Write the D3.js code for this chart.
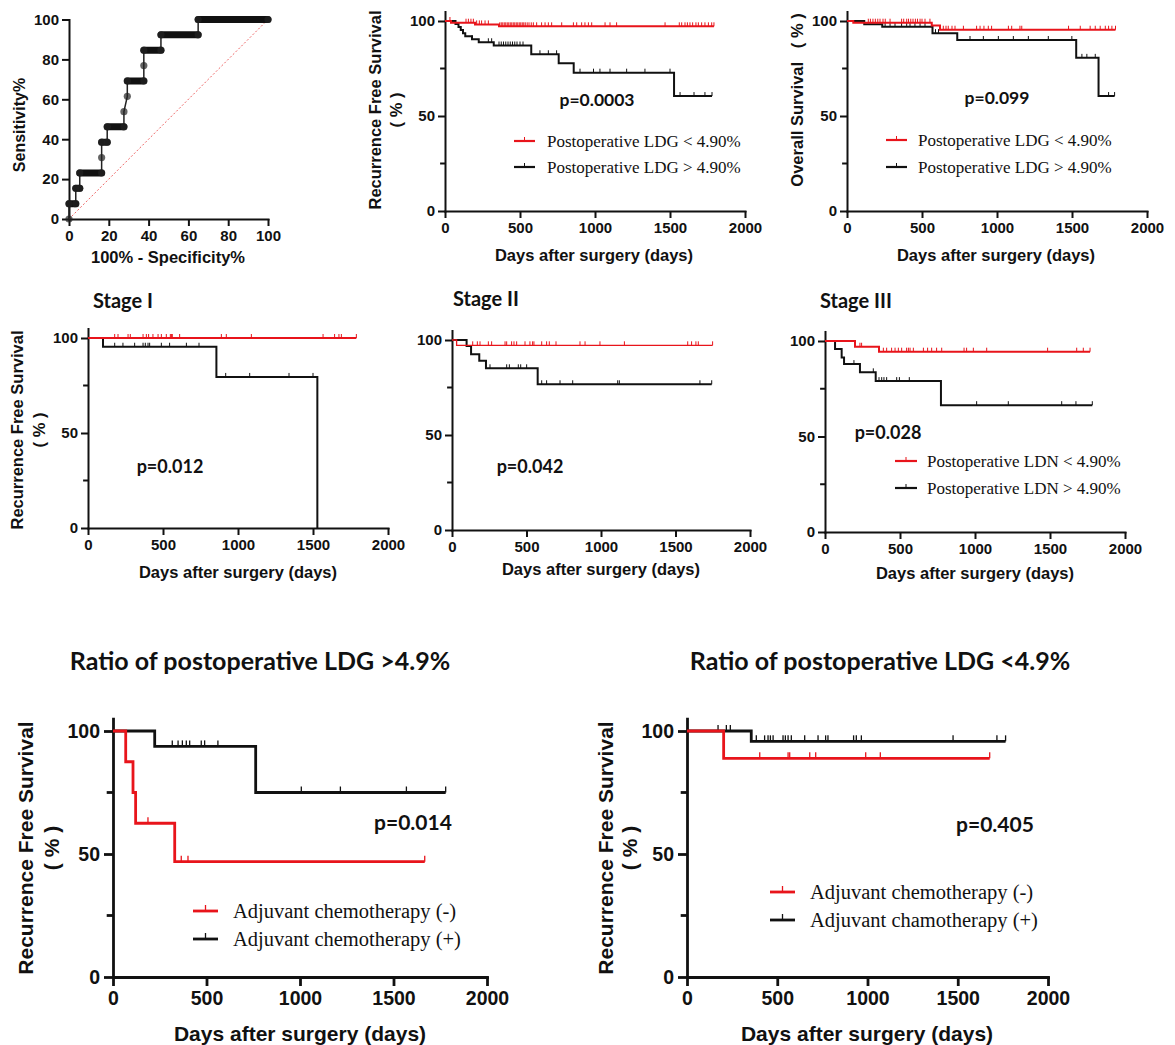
<!DOCTYPE html>
<meta charset="utf-8">
<script src="https://d3js.org/d3.v7.min.js"></script>
<body style="margin:0;background:#fff">
<div id="fig"></div>
</body>
<style>
  text { fill: #111; }
</style>
<script>
// ---------- data ----------
// ROC curve vertices (100% - specificity, sensitivity)
var rocFpr  = [0, 0, 3.4, 3.4, 5.4, 5.4, 16.4, 16.4, 16.4, 19.2, 19.2, 27.6, 27.6, 29.3, 29.3, 37.6, 37.6, 37.6, 46.2, 46.2, 64.9, 64.9, 100];
var rocSens = [0, 7.7, 7.7, 15.4, 15.4, 23.1, 23.1, 30.8, 38.5, 38.5, 46.2, 46.2, 53.8, 61.5, 69.2, 69.2, 76.9, 84.6, 84.6, 92.3, 92.3, 100, 100];
var rocTicks = [0, 20, 40, 60, 80, 100];

var dayTicks = [0, 500, 1000, 1500, 2000];
var survTicks = [0, 50, 100];
var survMinor = [25, 75];

// recurrence free survival, all patients
var rfsLowT = [40, 200, 360];
var rfsLowS = [99.1, 98.2, 97.2];
var rfsLowC = [33, 140, 156, 173, 189, 211, 229, 244, 267, 289, 365, 375, 385, 395, 405, 415, 425, 435, 445, 455, 465, 475, 485, 495, 505, 515, 525, 535, 548, 560, 575, 589, 611, 644, 667, 689, 711, 778, 856, 878, 911, 933, 956, 978, 1067, 1100, 1144, 1467, 1562, 1578, 1600, 1616, 1633, 1651, 1673, 1689, 1711, 1733, 1756, 1778, 1793];
var rfsHighT = [70, 90, 105, 120, 135, 180, 225, 325, 575, 758, 858, 1527];
var rfsHighS = [98.4, 96.8, 95.2, 93.6, 92.0, 90.4, 88.8, 87.1, 82.5, 77.7, 72.8, 60.5];
var rfsHighC = [180, 289, 311, 360, 375, 390, 405, 420, 435, 450, 465, 480, 500, 520, 633, 689, 744, 900, 990, 1033, 1100, 1211, 1333, 1500, 1567, 1660, 1733, 1780];

// overall survival, all patients
var osLowT = [42, 565, 620];
var osLowS = [99.1, 97.6, 95.4];
var osLowC = [142, 156, 173, 189, 205, 220, 240, 255, 287, 364, 378, 398, 410, 425, 440, 456, 470, 487, 500, 520, 553, 642, 660, 675, 700, 720, 776, 864, 887, 913, 942, 964, 1076, 1098, 1153, 1165, 1477, 1555, 1621, 1655, 1688, 1722, 1744, 1766, 1790];
var osHighT = [115, 235, 570, 735, 1528, 1677];
var osHighS = [98.3, 97.0, 93.6, 90.0, 80.6, 60.5];
var osHighC = [254, 287, 320, 364, 398, 420, 453, 487, 520, 590, 610, 820, 909, 1009, 1109, 1209, 1342, 1499, 1566, 1599, 1655, 1744, 1784];

// stage I
var st1LowT = [];
var st1LowS = [];
var st1LowC = [178, 200, 267, 282, 367, 389, 404, 433, 467, 489, 522, 549, 556, 562, 611, 889, 922, 1089, 1567, 1644, 1673, 1689, 1789];
var st1HighT = [100, 856, 1529];
var st1HighS = [95.4, 79.5, 0];
var st1HighC = [178, 233, 311, 367, 382, 400, 411, 489, 544, 656, 740, 918, 1078, 1340, 1500];

// stage II
var st2LowT = [31];
var st2LowS = [97.2];
var st2LowC = [139, 170, 188, 244, 266, 356, 367, 400, 416, 434, 490, 523, 541, 550, 602, 635, 653, 698, 859, 893, 993, 1157, 1582, 1608, 1637, 1653, 1749];
var st2HighT = [98, 128, 183, 228, 575];
var st2HighS = [96.8, 92.5, 89.1, 85.1, 76.7];
var st2HighC = [255, 367, 385, 445, 461, 501, 602, 635, 725, 810, 1112, 1123, 1664, 1743];

// stage III
var st3LowT = [200, 360];
var st3LowS = [97.0, 94.4];
var st3LowC = [233, 244, 389, 411, 444, 467, 489, 511, 544, 556, 567, 589, 656, 684, 711, 744, 778, 927, 944, 989, 1078, 1484, 1678, 1722, 1767];
var st3HighT = [67, 111, 127, 233, 338, 773];
var st3HighS = [95.8, 91.4, 87.9, 83.6, 79.0, 66.4];
var st3HighC = [193, 322, 360, 378, 393, 411, 478, 496, 562, 1011, 1222, 1578, 1673, 1782];

// LDG > 4.9%, by adjuvant chemotherapy
var hiNoT = [68, 107, 121, 330];
var hiNoS = [87.5, 75, 62.5, 46.9];
var hiNoC = [187, 365, 401, 1667];
var hiYesT = [223, 763];
var hiYesS = [93.75, 75];
var hiYesC = [317, 348, 371, 392, 410, 472, 490, 561, 1007, 1216, 1569, 1779];

// LDG < 4.9%, by adjuvant chemotherapy
var loNoT = [203];
var loNoS = [88.9];
var loNoC = [403, 560, 569, 680, 713, 990, 1071, 1677];
var loYesT = [356];
var loYesS = [95.8];
var loYesC = [172, 218, 240, 384, 430, 449, 462, 477, 532, 545, 560, 578, 652, 726, 768, 781, 923, 938, 966, 1474, 1717, 1765];

// ---------- drawing ----------
var ARIAL = "'Liberation Sans', Arial, sans-serif";
var TIMES = "'Liberation Serif', 'Times New Roman', serif";
var CALIBRI = "Lato, Calibri, sans-serif";
var RED = "#e8141b";
var BLACK = "#111";
var fmt = d3.format("d");

var svg = d3.select("#fig").append("svg")
    .attr("width", 1175)
    .attr("height", 1045);

function styleAxis(sel, fs, aw) {
  sel.select(".domain").attr("stroke", BLACK).attr("stroke-width", aw).attr("stroke-linecap", "square");
  sel.selectAll(".tick line").attr("stroke", BLACK).attr("stroke-width", aw);
  sel.selectAll(".tick text")
    .attr("fill", BLACK)
    .style("font-family", ARIAL)
    .style("font-weight", "bold")
    .style("font-size", fs + "px");
}

function survAt(T, S, c) {
  var s = 100;
  for (var i = 0; i < T.length; i++) if (T[i] <= c) s = S[i];
  return s;
}

function drawKM(p) {
  var g = svg.append("g");
  var x = d3.scaleLinear().domain([0, 2000]).range([p.x0, p.x1]);
  var y = d3.scaleLinear().domain([0, 105]).range([p.y0, p.y0 - (p.y0 - p.y100) * 1.05]);

  g.append("g")
    .attr("transform", "translate(0," + p.y0 + ")")
    .call(d3.axisBottom(x).tickValues(dayTicks).tickFormat(fmt).tickSize(p.tick).tickSizeOuter(0).tickPadding(p.pad))
    .call(styleAxis, p.fs, p.aw);

  g.append("g")
    .attr("transform", "translate(" + p.x0 + ",0)")
    .call(d3.axisLeft(y).tickValues(survTicks).tickFormat(fmt).tickSize(p.tick).tickSizeOuter(0).tickPadding(p.pad - 1))
    .call(styleAxis, p.fs, p.aw);

  // minor ticks at 25 and 75
  g.selectAll(null)
    .data(survMinor)
    .enter().append("line")
    .attr("x1", p.x0 - p.tick * 0.7).attr("x2", p.x0)
    .attr("y1", function(d) { return y(d); })
    .attr("y2", function(d) { return y(d); })
    .attr("stroke", BLACK).attr("stroke-width", p.aw);

  var line = d3.line()
    .x(function(d) { return x(d[0]); })
    .y(function(d) { return y(d[1]); })
    .curve(d3.curveStepAfter);

  p.groups.forEach(function(gr) {
    var pts = [[0, 100]];
    gr.T.forEach(function(t, i) { pts.push([t, gr.S[i]]); });
    var end = Math.max(d3.max(gr.C) || 0, d3.max(gr.T) || 0);
    pts.push([end, gr.S.length ? gr.S[gr.S.length - 1] : 100]);

    g.append("path")
      .datum(pts)
      .attr("d", line)
      .attr("fill", "none")
      .attr("stroke", gr.color)
      .attr("stroke-width", gr.w);

    g.selectAll(null)
      .data(gr.C)
      .enter().append("line")
      .attr("x1", function(c) { return x(c); })
      .attr("x2", function(c) { return x(c); })
      .attr("y1", function(c) { return y(survAt(gr.T, gr.S, c)); })
      .attr("y2", function(c) { return y(survAt(gr.T, gr.S, c)) - p.ch; })
      .attr("stroke", gr.color)
      .attr("stroke-width", p.cw);
  });

  if (p.title) {
    g.append("text")
      .attr("x", p.title.x).attr("y", p.title.y)
      .attr("text-anchor", p.title.anchor)
      .style("font-family", CALIBRI).style("font-weight", "bold")
      .style("font-size", p.title.fs + "px")
      .text(p.title.text);
  }

  g.append("text")
    .attr("x", p.pv.x).attr("y", p.pv.y)
    .attr("text-anchor", "middle")
    .style("font-family", CALIBRI).style("font-weight", "bold")
    .style("font-size", p.pv.fs + "px")
    .text(p.pv.text);

  g.append("text")
    .attr("x", p.xlab.x).attr("y", p.xlab.y)
    .attr("text-anchor", "middle")
    .style("font-family", ARIAL).style("font-weight", "bold")
    .style("font-size", p.lfs + "px")
    .text("Days after surgery (days)");

  (p.ylab || []).forEach(function(l) {
    g.append("text")
      .attr("transform", "translate(" + l.x + "," + p.ylabY + ") rotate(-90)")
      .attr("text-anchor", "middle")
      .attr("dominant-baseline", "central")
      .style("font-family", ARIAL).style("font-weight", "bold")
      .style("font-size", p.lfs + "px")
      .style("white-space", "pre")
      .text(l.text);
  });

  if (p.legend) {
    var L = p.legend;
    L.labels.forEach(function(lab, i) {
      var col = i === 0 ? RED : BLACK;
      var yy = L.ys[i];
      g.append("line")
        .attr("x1", L.lx[0]).attr("x2", L.lx[1])
        .attr("y1", yy).attr("y2", yy)
        .attr("stroke", col).attr("stroke-width", L.lw);
      var mid = (L.lx[0] + L.lx[1]) / 2;
      g.append("line")
        .attr("x1", mid).attr("x2", mid)
        .attr("y1", yy).attr("y2", yy - p.ch)
        .attr("stroke", col).attr("stroke-width", p.cw);
      g.append("text")
        .attr("x", L.tx).attr("y", yy)
        .attr("dominant-baseline", "central")
        .style("font-family", TIMES)
        .style("font-size", L.fs + "px")
        .text(lab);
    });
  }
}

// ---- ROC panel ----
(function() {
  var g = svg.append("g");
  var x = d3.scaleLinear().domain([0, 100]).range([69, 268]);
  var y = d3.scaleLinear().domain([0, 100]).range([219, 19.5]);

  g.append("g").attr("transform", "translate(0,219)")
    .call(d3.axisBottom(x).tickValues(rocTicks).tickSize(7).tickSizeOuter(0).tickPadding(4))
    .call(styleAxis, 15, 2);
  g.append("g").attr("transform", "translate(69,0)")
    .call(d3.axisLeft(y).tickValues(rocTicks).tickSize(7).tickSizeOuter(0).tickPadding(3))
    .call(styleAxis, 15, 2);

  g.append("line")
    .attr("x1", x(0)).attr("y1", y(0)).attr("x2", x(100)).attr("y2", y(100))
    .attr("stroke", "#e66").attr("stroke-width", 1).attr("stroke-dasharray", "2,2");

  var pts = rocFpr.map(function(f, i) { return [f, rocSens[i]]; });
  g.append("path")
    .datum(pts)
    .attr("d", d3.line().x(function(d) { return x(d[0]); }).y(function(d) { return y(d[1]); }))
    .attr("fill", "none").attr("stroke", "#222").attr("stroke-width", 1.5);

  for (var i = 0; i < pts.length - 1; i++) {
    if (pts[i][1] === pts[i + 1][1]) {
      g.append("line")
        .attr("x1", x(pts[i][0])).attr("x2", x(pts[i + 1][0]))
        .attr("y1", y(pts[i][1])).attr("y2", y(pts[i][1]))
        .attr("stroke", "#111").attr("stroke-width", 7).attr("stroke-linecap", "round");
    }
  }
  g.selectAll(null).data(pts).enter().append("circle")
    .attr("cx", function(d) { return x(d[0]); })
    .attr("cy", function(d) { return y(d[1]); })
    .attr("r", 3.6)
    .attr("fill", "#222").attr("fill-opacity", 0.7);

  g.append("text")
    .attr("transform", "translate(19,125) rotate(-90)")
    .attr("text-anchor", "middle").attr("dominant-baseline", "central")
    .style("font-family", ARIAL).style("font-weight", "bold").style("font-size", "16px")
    .text("Sensitivity%");
  g.append("text")
    .attr("x", 168).attr("y", 263)
    .attr("text-anchor", "middle")
    .style("font-family", ARIAL).style("font-weight", "bold").style("font-size", "16.5px")
    .text("100% - Specificity%");
})();

var topLegend = ["Postoperative LDG < 4.90%", "Postoperative LDG > 4.90%"];
var chemoLegendA = ["Adjuvant chemotherapy (-)", "Adjuvant chemotherapy (+)"];
var chemoLegendB = ["Adjuvant chemotherapy (-)", "Adjuvant chamotherapy (+)"];

var panels = [
  { x0: 445, x1: 745, y0: 211, y100: 21, fs: 15, lfs: 16.5, tick: 7, pad: 4, aw: 2, ch: 4, cw: 1,
    groups: [{ T: rfsHighT, S: rfsHighS, C: rfsHighC, color: BLACK, w: 2 },
             { T: rfsLowT, S: rfsLowS, C: rfsLowC, color: RED, w: 2 }],
    pv: { text: "p=0.0003", x: 597, y: 106, fs: 17.5 },
    xlab: { x: 594, y: 261 },
    ylab: [{ text: "Recurrence Free Survival", x: 375 }, { text: "( % )", x: 396 }], ylabY: 110,
    legend: { lx: [514, 535], tx: 547, ys: [141, 167], fs: 17, lw: 2.2, labels: topLegend } },
  { x0: 847, x1: 1147, y0: 211, y100: 21, fs: 15, lfs: 16.5, tick: 7, pad: 4, aw: 2, ch: 4, cw: 1,
    groups: [{ T: osHighT, S: osHighS, C: osHighC, color: BLACK, w: 2 },
             { T: osLowT, S: osLowS, C: osLowC, color: RED, w: 2 }],
    pv: { text: "p=0.099", x: 997, y: 104, fs: 17.5 },
    xlab: { x: 996, y: 261 },
    ylab: [{ text: "Overall Survival   ( % )", x: 797 }], ylabY: 100,
    legend: { lx: [886, 907], tx: 918, ys: [140, 167], fs: 17, lw: 2.2, labels: topLegend } },
  { x0: 88, x1: 388, y0: 528, y100: 338, fs: 15, lfs: 16.5, tick: 7, pad: 4, aw: 2, ch: 4, cw: 1,
    groups: [{ T: st1HighT, S: st1HighS, C: st1HighC, color: BLACK, w: 2 },
             { T: st1LowT, S: st1LowS, C: st1LowC, color: RED, w: 1.8 }],
    title: { text: "Stage I", x: 93, y: 308, anchor: "start", fs: 20 },
    pv: { text: "p=0.012", x: 170, y: 473, fs: 18 },
    xlab: { x: 238, y: 578 },
    ylab: [{ text: "Recurrence Free Survival", x: 17 }, { text: "( % )", x: 39 }], ylabY: 430 },
  { x0: 452, x1: 750, y0: 530, y100: 340, fs: 15, lfs: 16.5, tick: 7, pad: 4, aw: 2, ch: 4, cw: 1,
    groups: [{ T: st2HighT, S: st2HighS, C: st2HighC, color: BLACK, w: 2 },
             { T: st2LowT, S: st2LowS, C: st2LowC, color: RED, w: 1.3 }],
    title: { text: "Stage II", x: 453, y: 306, anchor: "start", fs: 20 },
    pv: { text: "p=0.042", x: 530, y: 473, fs: 18 },
    xlab: { x: 601, y: 575 } },
  { x0: 825, x1: 1125, y0: 532, y100: 341, fs: 15, lfs: 16.5, tick: 7, pad: 4, aw: 2, ch: 4, cw: 1,
    groups: [{ T: st3HighT, S: st3HighS, C: st3HighC, color: BLACK, w: 2 },
             { T: st3LowT, S: st3LowS, C: st3LowC, color: RED, w: 2 }],
    title: { text: "Stage III", x: 820, y: 308, anchor: "start", fs: 20 },
    pv: { text: "p=0.028", x: 888, y: 439, fs: 18 },
    xlab: { x: 975, y: 579 },
    legend: { lx: [895, 917], tx: 927, ys: [461, 488], fs: 17, lw: 2.2,
              labels: ["Postoperative LDN < 4.90%", "Postoperative LDN > 4.90%"] } },
  { x0: 113, x1: 487, y0: 977, y100: 731, fs: 19.5, lfs: 21, tick: 9, pad: 5, aw: 2.8, ch: 6, cw: 1.3,
    groups: [{ T: hiYesT, S: hiYesS, C: hiYesC, color: BLACK, w: 2.8 },
             { T: hiNoT, S: hiNoS, C: hiNoC, color: RED, w: 2.8 }],
    title: { text: "Ratio of postoperative LDG >4.9%", x: 260, y: 670, anchor: "middle", fs: 25 },
    pv: { text: "p=0.014", x: 413, y: 830, fs: 21 },
    xlab: { x: 300, y: 1041 },
    ylab: [{ text: "Recurrence Free Survival", x: 25 }, { text: "( % )", x: 51 }], ylabY: 848,
    legend: { lx: [193, 218], tx: 233, ys: [911, 939], fs: 20.5, lw: 2.8, labels: chemoLegendA } },
  { x0: 687, x1: 1048, y0: 977, y100: 731, fs: 19.5, lfs: 21, tick: 9, pad: 5, aw: 2.8, ch: 6, cw: 1.3,
    groups: [{ T: loYesT, S: loYesS, C: loYesC, color: BLACK, w: 2.8 },
             { T: loNoT, S: loNoS, C: loNoC, color: RED, w: 2.8 }],
    title: { text: "Ratio of postoperative LDG <4.9%", x: 880, y: 670, anchor: "middle", fs: 25 },
    pv: { text: "p=0.405", x: 995, y: 832, fs: 21 },
    xlab: { x: 867, y: 1041 },
    ylab: [{ text: "Recurrence Free Survival", x: 605 }, { text: "( % )", x: 629 }], ylabY: 848,
    legend: { lx: [770, 795], tx: 810, ys: [892, 920], fs: 20.5, lw: 2.8, labels: chemoLegendB } }
];

panels.forEach(drawKM);
</script>
